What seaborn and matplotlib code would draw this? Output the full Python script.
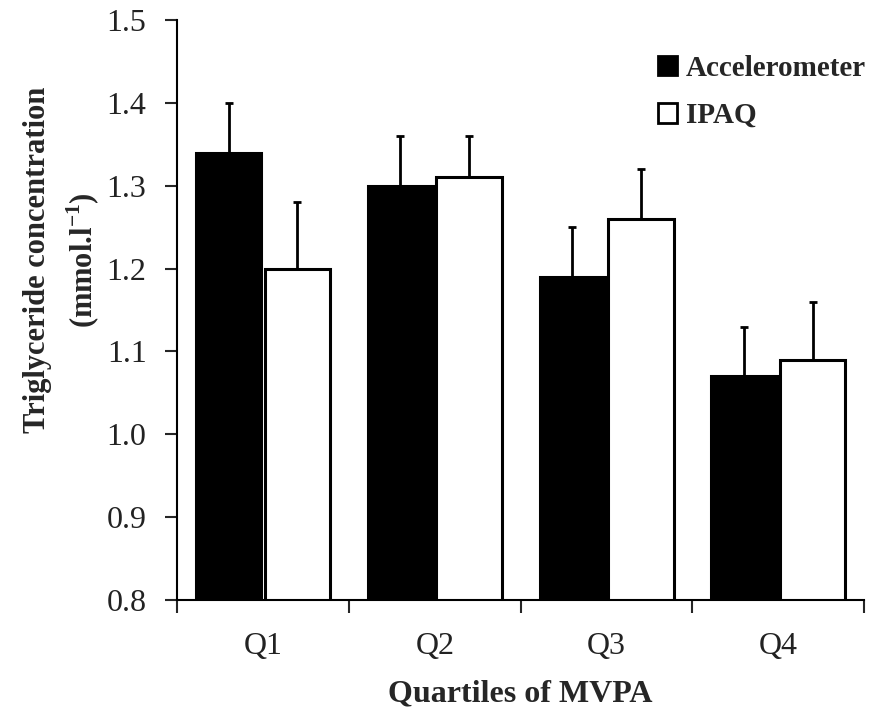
import matplotlib
matplotlib.use("Agg")
import matplotlib.pyplot as plt
import numpy as np
import pandas as pd
import seaborn as sns
from matplotlib.patches import Patch

quartiles = ["Q1", "Q2", "Q3", "Q4"]
methods = ["Accelerometer", "IPAQ"]
accelerometer = [1.34, 1.30, 1.19, 1.07]
accelerometer_err = [0.06, 0.06, 0.06, 0.06]
ipaq = [1.20, 1.31, 1.26, 1.09]
ipaq_err = [0.08, 0.05, 0.06, 0.07]

df = pd.DataFrame({
    "Quartile": quartiles * 2,
    "Method": [methods[0]] * 4 + [methods[1]] * 4,
    "Value": accelerometer + ipaq,
})

sns.set_theme(style="ticks")
plt.rcParams["font.family"] = ["Liberation Serif", "DejaVu Serif"]
plt.rcParams["mathtext.fontset"] = "custom"
plt.rcParams["mathtext.rm"] = "Liberation Serif:bold"
plt.rcParams["mathtext.bf"] = "Liberation Serif:bold"

fig = plt.figure(figsize=(8.9, 7.08), dpi=100)
ax = fig.add_axes([0.199, 0.1525, 0.772, 0.8193])

palette = {"Accelerometer": "black", "IPAQ": "white"}
sns.barplot(data=df, x="Quartile", y="Value", hue="Method", order=quartiles,
            hue_order=methods, palette=palette, width=0.8, gap=0.05,
            edgecolor="black", linewidth=2.2, errorbar=None, legend=False, ax=ax)

# one-sided (upper) error bars
xs = np.arange(len(quartiles))
for offset, vals, errs in [(-0.2, accelerometer, accelerometer_err),
                           (0.2, ipaq, ipaq_err)]:
    ax.errorbar(xs + offset, vals, yerr=[np.zeros(len(vals)), errs],
                fmt="none", ecolor="black", elinewidth=2, capsize=3,
                capthick=2, zorder=0.5)

ax.set_ylim(0.8, 1.5)
ax.set_xlim(-0.5, 3.5)
yt = np.arange(0.8, 1.51, 0.1)
ax.set_yticks(yt)
ax.set_yticklabels([f"{v:.1f}" for v in yt], fontsize=23, color="#222222")
ax.set_xticks(np.arange(-0.5, 3.6, 1.0))
ax.set_xticklabels([])
ax.set_xticks(xs, minor=True)
ax.set_xticklabels(quartiles, minor=True, fontsize=23, color="#222222")
ax.tick_params(axis="x", which="major", length=9, width=1.5, direction="out")
ax.tick_params(axis="x", which="minor", length=0, pad=23)
ax.tick_params(axis="y", length=9, width=1.5, direction="out", pad=13)

for s in ["top", "right"]:
    ax.spines[s].set_visible(False)
for s in ["left", "bottom"]:
    ax.spines[s].set_linewidth(1.5)
    ax.spines[s].set_color("black")

ax.set_xlabel("Quartiles of MVPA", fontsize=23, fontweight="bold", labelpad=13)
ax.set_ylabel("Triglyceride concentration\n(mmol.l$^{-1}$)", fontsize=22,
              fontweight="bold", linespacing=1.45)
ax.yaxis.set_label_coords(-0.11, 0.586)

handles = [Patch(facecolor="black", edgecolor="black", linewidth=2),
           Patch(facecolor="white", edgecolor="black", linewidth=2)]
leg = ax.legend(handles, methods, loc="upper left", bbox_to_anchor=(0.700, 0.94),
                frameon=False, handlelength=0.65, handleheight=0.65,
                handletextpad=0.3, labelspacing=0.7, borderpad=0, borderaxespad=0,
                prop={"family": "Liberation Serif", "weight": "bold", "size": 21})

fig.savefig("out.png", dpi=100)
